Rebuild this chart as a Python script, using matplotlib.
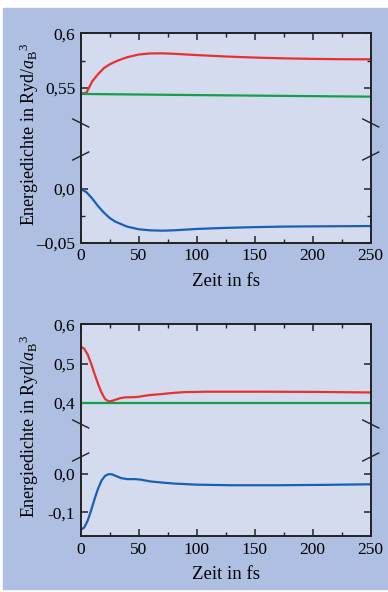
import matplotlib
matplotlib.use("Agg")
import matplotlib.pyplot as plt
from matplotlib.patches import Rectangle

plt.rcParams['font.family'] = ['Liberation Serif', 'DejaVu Serif']
plt.rcParams['mathtext.fontset'] = 'custom'
plt.rcParams['mathtext.rm'] = 'Liberation Serif'
plt.rcParams['mathtext.it'] = 'Liberation Serif:italic'

# upper panel
t_red1 = [0, 5, 10, 15, 20, 25, 30, 35, 40, 50, 60, 70, 80, 100, 125, 150, 175, 200, 225, 250]
red1 = [0.5445, 0.5455, 0.556, 0.5625, 0.568, 0.5715, 0.574, 0.5762, 0.578, 0.5805,
        0.5815, 0.5816, 0.5812, 0.5800, 0.5787, 0.5777, 0.5770, 0.5765, 0.5762, 0.5761]
t_green1 = [0, 125, 250]
green1 = [0.5443, 0.5430, 0.5418]
t_blue1 = [0, 5, 10, 15, 20, 25, 30, 40, 50, 60, 70, 80, 100, 125, 150, 175, 200, 250]
blue1 = [0.0, -0.003, -0.009, -0.016, -0.022, -0.027, -0.0305, -0.035, -0.0375, -0.0385,
         -0.0388, -0.0385, -0.0372, -0.0362, -0.0355, -0.0350, -0.0348, -0.0345]

# lower panel
t_red2 = [0, 3, 6, 9, 12, 15, 18, 21, 24, 27, 30, 34, 38, 45, 50, 55, 60, 70, 80, 90,
          110, 150, 200, 250]
red2 = [0.543, 0.538, 0.523, 0.500, 0.473, 0.448, 0.426, 0.410, 0.404, 0.405, 0.408,
        0.412, 0.414, 0.4145, 0.4155, 0.418, 0.420, 0.4225, 0.4255, 0.4275, 0.4285,
        0.4285, 0.428, 0.4265]
t_green2 = [0, 250]
green2 = [0.4005, 0.4005]
t_blue2 = [0, 3, 6, 9, 12, 15, 18, 21, 24, 27, 30, 35, 40, 47, 52, 60, 70, 80, 100,
           130, 170, 210, 250]
blue2 = [-0.146, -0.140, -0.122, -0.095, -0.065, -0.038, -0.017, -0.005, -0.0005,
         -0.001, -0.005, -0.011, -0.0135, -0.0135, -0.015, -0.0195, -0.0225, -0.025,
         -0.028, -0.0295, -0.0295, -0.0285, -0.027]

x_ticks = [0, 50, 100, 150, 200, 250]
x_minor = [25, 75, 125, 175, 225]

W, H = 388, 592
outer = '#afbfe1'
inner = '#d4dbef'
red, green, blue = '#e8312f', '#12a04a', '#1860b4'
dark = '#222222'

fig = plt.figure(figsize=(W / 100, H / 100), dpi=100)
fig.patch.set_facecolor('white')
fig.add_artist(Rectangle((3 / W, (H - 589) / H), (W - 3) / W, (589 - 8) / H,
                         transform=fig.transFigure, color=outer, zorder=0))


def px_axes(left, top, right, bottom):
    return fig.add_axes([left / W, 1 - bottom / H, (right - left) / W, (bottom - top) / H])


def panel(top, div, bottom, hi_lim, lo_lim, hi_ticks, hi_labels, lo_ticks, lo_labels,
          hi_minor, lo_minor, curves_hi, curves_lo):
    left, right = 80.7, 370.7
    ax_hi = px_axes(left, top, right, div)
    ax_lo = px_axes(left, div, right, bottom)
    for ax in (ax_hi, ax_lo):
        ax.set_facecolor(inner)
        ax.set_xlim(0, 250)
        ax.set_xticks(x_ticks)
        ax.set_xticks(x_minor, minor=True)
        ax.tick_params(which='both', direction='in', top=True, right=True,
                       color=dark, labelsize=12.5, pad=4)
        ax.tick_params(which='major', length=5, width=1.1)
        ax.tick_params(which='minor', length=3, width=1)
        for s in ax.spines.values():
            s.set_linewidth(1.4)
            s.set_color(dark)
    ax_hi.spines['bottom'].set_visible(False)
    ax_lo.spines['top'].set_visible(False)
    ax_hi.tick_params(which='both', axis='x', bottom=False, labelbottom=False)
    ax_lo.tick_params(which='both', axis='x', top=False)

    ax_hi.set_ylim(*hi_lim)
    ax_lo.set_ylim(*lo_lim)
    ax_hi.set_yticks(hi_ticks, hi_labels)
    ax_lo.set_yticks(lo_ticks, lo_labels)
    ax_hi.set_yticks(hi_minor, minor=True)
    ax_lo.set_yticks(lo_minor, minor=True)

    for t, y, c in curves_hi:
        ax_hi.plot(t, y, color=c, lw=1.6)
    for t, y, c in curves_lo:
        ax_lo.plot(t, y, color=c, lw=1.6)

    ax_lo.set_xlabel('Zeit in fs', fontsize=13.5, labelpad=6)
    fig.text(29 / W, 1 - ((top + bottom) / 2 - 4) / H,
             r'Energiedichte in Ryd/$a_\mathrm{B}{}^3$', rotation=90,
             ha='center', va='center', fontsize=13)

    # break marks
    dx = 8 / (right - left)
    h_hi = div - top
    h_lo = bottom - div
    for xc in (0, 1):
        y1 = 17 / h_hi
        ax_hi.plot([xc - dx, xc + dx], [y1 + 4 / h_hi, y1 - 4 / h_hi],
                   transform=ax_hi.transAxes, color=dark, lw=1, clip_on=False)
        y2 = 1 - 16 / h_lo
        ax_lo.plot([xc - dx, xc + dx], [y2 - 4 / h_lo, y2 + 4 / h_lo],
                   transform=ax_lo.transAxes, color=dark, lw=1, clip_on=False)


panel(33.3, 140, 242.7,
      (0.502, 0.6), (-0.05, 0.0456),
      [0.55, 0.6], ['0,55', '0,6'], [-0.05, 0.0], ['\u20130,05', '0,0'],
      [0.575], [-0.025],
      [(t_red1, red1, red), (t_green1, green1, green)],
      [(t_blue1, blue1, blue)])

panel(324.3, 441, 536,
      (0.303, 0.6), (-0.162, 0.086),
      [0.4, 0.5, 0.6], ['0,4', '0,5', '0,6'], [-0.1, 0.0], ['-0,1', '0,0'],
      [], [],
      [(t_red2, red2, red), (t_green2, green2, green)],
      [(t_blue2, blue2, blue)])

fig.savefig('out.png', dpi=100, facecolor=fig.get_facecolor())
